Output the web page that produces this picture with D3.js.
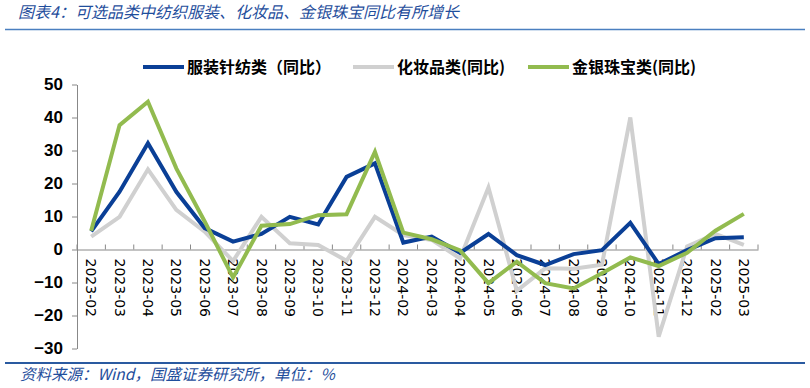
<!DOCTYPE html>
<html><head><meta charset="utf-8">
<script src="https://cdn.jsdelivr.net/npm/d3@7"></script>
<style>
body{margin:0;background:#fff;}
svg{display:block;}
</style></head>
<body><svg id="c" width="810" height="388"></svg>
<script>
const categories = ["2023-02","2023-03","2023-04","2023-05","2023-06","2023-07","2023-08","2023-09","2023-10","2023-11","2023-12","2024-02","2024-03","2024-04","2024-05","2024-06","2024-07","2024-08","2024-09","2024-10","2024-11","2024-12","2025-02","2025-03"];
const apparel = [5.5,17.5,32.2,17.5,6.5,2.4,4.7,9.9,7.6,22.0,26.1,2.1,3.9,-1.0,4.7,-1.7,-4.7,-1.4,-0.2,8.1,-4.4,-0.2,3.4,3.7];
const cosmetics = [3.9,9.9,24.3,12.0,5.4,-3.5,9.9,1.9,1.4,-3.4,9.9,4.4,2.9,-2.7,18.8,-12.5,-5.7,-5.8,-4.6,40.0,-26.4,0.9,4.7,1.4];
const jewelry = [5.7,37.7,44.8,24.6,8.5,-8.5,7.2,7.7,10.4,10.7,29.6,5.1,3.1,-0.3,-10.2,-3.7,-10.2,-11.8,-7.2,-2.4,-5.0,-1.0,5.7,10.8];
const yTicks = [-30,-20,-10,0,10,20,30,40,50];
const seriesNames = ["服装针纺类（同比）","化妆品类(同比)","金银珠宝类(同比)"];
const colors = ["#0a3f96","#d0d0d0","#92bb4f"];

const svg = d3.select("#c");
const blue = "#1f4e9c";

// title
svg.append("text").attr("x",18).attr("y",18)
  .attr("font-family","'Noto Sans CJK SC'").attr("font-style","italic")
  .attr("font-size",16).attr("fill",blue)
  .text("图表4：可选品类中纺织服装、化妆品、金银珠宝同比有所增长");
svg.append("line").attr("x1",5).attr("x2",805).attr("y1",29.5).attr("y2",29.5)
  .attr("stroke","#4a7fc0").attr("stroke-width",1.5);
svg.append("line").attr("x1",5).attr("x2",805).attr("y1",363).attr("y2",363)
  .attr("stroke","#2a5aa0").attr("stroke-width",2);
svg.append("text").attr("x",20).attr("y",380)
  .attr("font-family","'Noto Sans CJK SC'").attr("font-style","italic")
  .attr("font-size",15.5).attr("fill",blue)
  .text("资料来源：Wind，国盛证券研究所，单位：%");

const x0 = 77, x1 = 758;
const x = d3.scaleBand().domain(categories).range([x0,x1]);
const y = d3.scaleLinear().domain([-30,50]).range([348.5,84.5]);

// y axis
const ya = svg.append("g").attr("transform",`translate(${x0},0)`)
  .call(d3.axisLeft(y).tickValues(yTicks).tickSize(5).tickSizeOuter(0));
ya.select(".domain").attr("stroke","#888");
ya.selectAll(".tick line").attr("stroke","#888");
ya.selectAll(".tick text").attr("font-family","'Liberation Sans',Arial").attr("font-weight","bold")
  .attr("font-size",17).attr("fill","#000").attr("dx",-6);

// x axis at zero
const xa = svg.append("g").attr("transform",`translate(0,${y(0)})`)
  .call(d3.axisBottom(x).tickSize(0).tickSizeOuter(0));
xa.select(".domain").attr("stroke","#888");
xa.selectAll(".tick text")
  .attr("font-family","'DejaVu Sans'").attr("font-size",14).attr("fill","#000")
  .attr("text-anchor","start")
  .attr("transform","rotate(90)")
  .attr("x",9).attr("y",0).attr("dy","0.35em");
// tick marks between categories
const bounds = categories.map(c=>x(c)).concat([x1]);
svg.append("g").selectAll("line").data(bounds).join("line")
  .attr("x1",d=>d).attr("x2",d=>d).attr("y1",y(0)).attr("y2",y(0)-5)
  .attr("stroke","#888");

const line = d3.line().x((d,i)=>x(categories[i])+x.bandwidth()/2).y(d=>y(d));
const data = [apparel,cosmetics,jewelry];
// draw order: cosmetics, apparel, jewelry
[1,0,2].forEach(k=>{
  svg.append("path").datum(data[k]).attr("d",line)
    .attr("fill","none").attr("stroke",colors[k]).attr("stroke-width",4)
    .attr("stroke-linejoin","miter");
});

// legend
const legX = [143,353,528];
seriesNames.forEach((n,i)=>{
  svg.append("line").attr("x1",legX[i]).attr("x2",legX[i]+41).attr("y1",67).attr("y2",67)
    .attr("stroke",colors[i]).attr("stroke-width",4);
  svg.append("text").attr("x",legX[i]+44).attr("y",72.5)
    .attr("font-family","'Noto Sans CJK SC'").attr("font-weight","bold").attr("font-size",16)
    .attr("fill","#000").text(n);
});
</script></body></html>
